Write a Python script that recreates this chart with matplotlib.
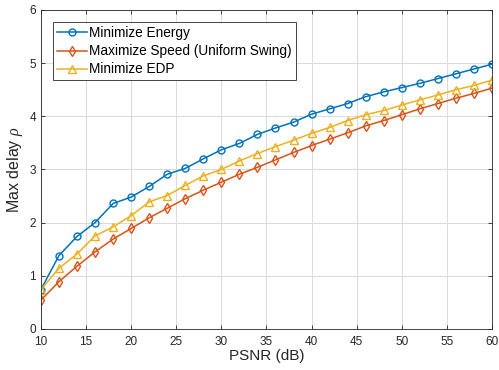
import matplotlib
matplotlib.use('Agg')
import matplotlib.pyplot as plt
import numpy as np

psnr = np.arange(10, 61, 2)
min_energy = [0.74, 1.38, 1.74, 2.00, 2.36, 2.48, 2.68, 2.91, 3.02, 3.20, 3.37, 3.49, 3.66,
              3.78, 3.89, 4.04, 4.14, 4.24, 4.37, 4.46, 4.54, 4.62, 4.71, 4.80, 4.89, 4.98]
max_speed = [0.54, 0.89, 1.18, 1.45, 1.69, 1.89, 2.09, 2.27, 2.45, 2.61, 2.76, 2.91, 3.04,
             3.18, 3.32, 3.45, 3.57, 3.69, 3.82, 3.92, 4.03, 4.14, 4.24, 4.34, 4.43, 4.53]
min_edp = [0.74, 1.14, 1.41, 1.75, 1.92, 2.13, 2.39, 2.51, 2.70, 2.88, 3.00, 3.16, 3.30,
           3.43, 3.55, 3.68, 3.79, 3.92, 4.03, 4.11, 4.21, 4.31, 4.40, 4.50, 4.58, 4.68]

plt.rcParams['font.family'] = ['Liberation Sans', 'DejaVu Sans']
plt.rcParams['mathtext.fontset'] = 'custom'
plt.rcParams['mathtext.it'] = 'Liberation Serif:italic'

fig = plt.figure(figsize=(4.99, 3.70), dpi=100)
ax = fig.add_axes([0.082, 0.111, 0.904, 0.862])

ax.plot(psnr, min_energy, color='#0072BD', marker='o', mfc='none', ms=5, lw=1.1,
        mew=1.0, label='Minimize Energy')
ax.plot(psnr, max_speed, color='#D95319', marker='d', mfc='none', ms=5.5, lw=1.1,
        mew=1.0, label='Maximize Speed (Uniform Swing)')
ax.plot(psnr, min_edp, color='#EDB120', marker='^', mfc='none', ms=5.5, lw=1.1,
        mew=1.0, label='Minimize EDP')

ax.set_xlim(10, 60)
ax.set_ylim(0, 6)
ax.set_xticks(np.arange(10, 61, 5))
ax.set_yticks(np.arange(0, 7, 1))
ax.grid(True, color='#dcdcdc', lw=0.8)
ax.set_axisbelow(True)
ax.tick_params(direction='in', top=True, right=True, labelsize=8.5, length=3,
               colors='#262626', width=0.6)
ax.tick_params(axis='x', pad=5)
for s in ax.spines.values():
    s.set_color('#262626')
    s.set_linewidth(0.6)

ax.set_xlabel('PSNR (dB)', fontsize=11, color='#262626', labelpad=1)
ax.set_ylabel(r'Max delay $\rho$', fontsize=11.5, color='#262626', labelpad=3)

leg = ax.legend(loc='upper left', bbox_to_anchor=(0.0266, 0.962), fontsize=9.8,
                fancybox=False, edgecolor='#262626', framealpha=1,
                handlelength=2.2, handletextpad=0.15, borderpad=0.3,
                labelspacing=0.3, borderaxespad=0)
leg.get_frame().set_linewidth(0.6)

fig.savefig('out.png', dpi=100)
